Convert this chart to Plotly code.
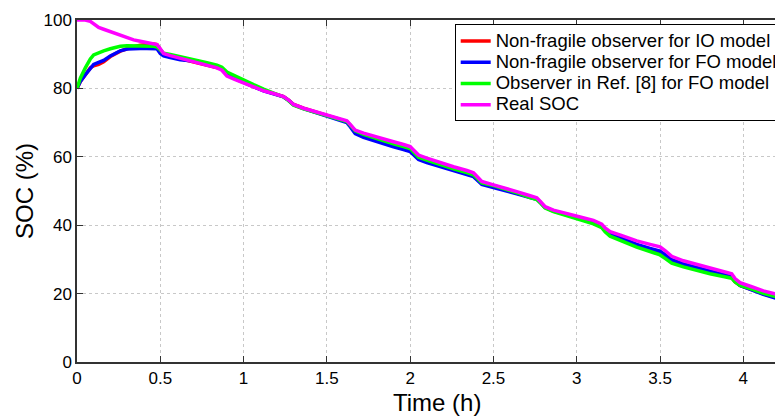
import plotly.graph_objects as go

# Time (h)
time_h = [0, 0.02, 0.05, 0.08, 0.1, 0.13, 0.16, 0.2, 0.26, 0.3, 0.34, 0.38, 0.42, 0.46, 0.48, 0.5, 0.52,
          0.56, 0.62, 0.7, 0.78, 0.84, 0.87, 0.9, 0.95, 1.0, 1.06, 1.12, 1.18, 1.24, 1.27, 1.3, 1.36, 1.42,
          1.5, 1.56, 1.62, 1.64, 1.67, 1.72, 1.78, 1.84, 1.9, 1.96, 2.0, 2.02, 2.05, 2.1, 2.18, 2.26, 2.34,
          2.38, 2.4, 2.43, 2.5, 2.56, 2.64, 2.72, 2.76, 2.78, 2.81, 2.86, 2.94, 3.02, 3.1, 3.15, 3.17, 3.2,
          3.28, 3.36, 3.44, 3.5, 3.53, 3.57, 3.64, 3.72, 3.8, 3.88, 3.93, 3.95, 3.98, 4.05, 4.12, 4.2, 4.3]

soc_real = [100, 100, 100, 99.6, 98.8, 97.8, 97.3, 96.6, 95.5, 94.8, 94.2, 93.8, 93.4, 93.1, 92.8, 91.6, 90.2,
            89.6, 88.8, 87.8, 86.8, 86.0, 85.3, 83.6, 82.6, 81.7, 80.4, 79.3, 78.5, 77.6, 76.6, 75.3, 74.2, 73.3,
            72.3, 71.4, 70.5, 69.5, 67.8, 66.9, 66.0, 65.2, 64.4, 63.6, 63.0, 62.0, 60.5, 59.6, 58.3, 57.1, 56.0,
            55.3, 54.3, 52.8, 51.8, 51.0, 49.8, 48.6, 48.0, 47.0, 45.4, 44.4, 43.5, 42.4, 41.4, 40.3, 39.2, 38.1,
            36.8, 35.4, 34.4, 33.7, 32.6, 30.9, 29.6, 28.5, 27.4, 26.4, 25.8, 24.4, 23.2, 22.0, 20.8, 19.8, 18.8]

soc_io = [80, 82, 84, 86, 86.6, 87, 87.8, 89.3, 90.9, 91.6, 92.2, 92.6, 92.9, 93.0, 92.8, 91.4, 90.0,
          89.4, 88.7, 87.9, 87.0, 86.3, 85.7, 84.1, 82.9, 81.9, 80.5, 79.4, 78.5, 77.6, 76.6, 75.3, 74.2, 73.2,
          72.1, 71.2, 70.2, 69.1, 67.2, 66.1, 65.1, 64.2, 63.3, 62.5, 61.9, 61.0, 59.6, 58.7, 57.5, 56.4, 55.3,
          54.6, 53.7, 52.3, 51.3, 50.5, 49.4, 48.3, 47.7, 46.8, 45.2, 44.1, 43.1, 41.9, 40.8, 39.6, 38.5, 37.2,
          35.6, 34.0, 32.8, 32.0, 31.0, 29.6, 28.4, 27.3, 26.3, 25.3, 24.7, 23.5, 22.4, 21.2, 19.9, 18.8, 17.6]

soc_fo = [80, 82, 84, 86, 87, 87.6, 88.2, 89.5, 91.0, 91.5, 91.7, 91.7, 91.7, 91.7, 91.6, 90.2, 89.5,
          89.0, 88.4, 88.0, 87.0, 86.2, 85.6, 84.0, 82.8, 81.8, 80.4, 79.3, 78.4, 77.5, 76.5, 75.2, 74.1, 73.1,
          72.0, 71.0, 70.0, 68.8, 66.8, 65.7, 64.7, 63.8, 62.9, 62.1, 61.5, 60.6, 59.2, 58.3, 57.1, 56.0, 54.9,
          54.2, 53.3, 51.9, 51.0, 50.3, 49.2, 48.1, 47.6, 46.7, 45.2, 44.2, 43.3, 42.2, 41.1, 40.0, 38.9, 37.6,
          36.0, 34.4, 33.2, 32.4, 31.4, 29.9, 28.7, 27.6, 26.5, 25.5, 24.9, 23.6, 22.4, 21.1, 19.8, 18.6, 17.4]

soc_ref8 = [80, 83, 86, 88.6, 89.8, 90.5, 91.0, 91.6, 92.3, 92.5, 92.5, 92.5, 92.4, 92.3, 92.1, 91.2, 90.3,
            89.9, 89.3, 88.5, 87.5, 86.8, 86.2, 84.8, 83.6, 82.5, 81.1, 79.8, 78.6, 77.5, 76.4, 75.1, 74.0, 73.1,
            72.1, 71.2, 70.3, 69.3, 67.6, 66.6, 65.6, 64.7, 63.8, 63.0, 62.4, 61.4, 59.9, 59.0, 57.7, 56.5, 55.4,
            54.7, 53.8, 52.4, 51.6, 50.8, 49.5, 48.1, 47.5, 46.6, 45.0, 44.0, 42.8, 41.6, 40.4, 39.3, 38.1, 36.8,
            35.2, 33.6, 32.3, 31.3, 30.3, 28.9, 27.8, 26.7, 25.8, 25.0, 24.5, 23.4, 22.4, 21.3, 20.1, 19.0, 18.0]

series_names = ["Non-fragile observer for IO model", "Non-fragile observer for FO model",
                "Observer in Ref. [8] for FO model", "Real SOC"]
series_values = [soc_io, soc_fo, soc_ref8, soc_real]
series_colors = ["#ff0000", "#0000ff", "#00ff00", "#ff00ff"]

x_ticks = [0, 0.5, 1, 1.5, 2, 2.5, 3, 3.5, 4]
x_tick_labels = ["0", "0.5", "1", "1.5", "2", "2.5", "3", "3.5", "4"]
y_ticks = [0, 20, 40, 60, 80, 100]
y_tick_labels = ["0", "20", "40", "60", "80", "100"]

FONT = "Liberation Sans, Arial, sans-serif"
LEGEND_TEXT_PX = 18.5

fig = go.Figure()
for name, vals, col in zip(series_names, series_values, series_colors):
    label = '<span style="font-size:%.1fpx">%s</span>' % (LEGEND_TEXT_PX, name)
    fig.add_trace(go.Scatter(x=time_h, y=vals, mode="lines", name=label,
                             line=dict(color=col, width=3.5)))

# invisible trace on a top axis to get mirrored ticks without a right border
fig.add_trace(go.Scatter(x=[0], y=[0], xaxis="x2", showlegend=False, hoverinfo="skip",
                         mode="markers", marker=dict(opacity=0)))

XMAX = 4.238
axis_col = "#333333"
fig.update_layout(
    width=775, height=408,
    margin=dict(l=69, r=0, t=11.5, b=53.5, autoexpand=False),
    plot_bgcolor="white", paper_bgcolor="white",
    font=dict(family=FONT, size=17, color="black"),
    xaxis=dict(range=[0, XMAX], tickvals=x_ticks, ticktext=x_tick_labels,
               showline=True, linecolor=axis_col, linewidth=1.5,
               ticks="inside", ticklen=6, tickcolor=axis_col,
               showgrid=True, gridcolor="#c8c8c8", griddash="dot", gridwidth=1,
               zeroline=False, tickfont=dict(size=17)),
    xaxis2=dict(range=[0, XMAX], overlaying="x", side="top", tickvals=x_ticks,
                showticklabels=False, showline=True, linecolor=axis_col, linewidth=1.5,
                ticks="inside", ticklen=6, tickcolor=axis_col, showgrid=False, zeroline=False),
    yaxis=dict(range=[0, 100], tickvals=y_ticks, ticktext=y_tick_labels,
               showline=True, linecolor=axis_col, linewidth=1.5,
               ticks="inside", ticklen=6, tickcolor=axis_col,
               showgrid=True, gridcolor="#c8c8c8", griddash="dot", gridwidth=1,
               zeroline=False, tickfont=dict(size=17)),
    legend=dict(x=0.535, y=0.987, xanchor="left", yanchor="top",
                bgcolor="white", bordercolor="black", borderwidth=1,
                font=dict(family=FONT, size=14), tracegroupgap=0),
    showlegend=True,
)

fig.add_annotation(text="Time (h)", xref="x", yref="paper", x=2.16, y=0, yshift=-40,
                   xanchor="center", yanchor="middle", showarrow=False,
                   font=dict(family=FONT, size=24))
fig.add_annotation(text="SOC (%)", xref="paper", yref="paper", x=0, y=0.5, xshift=-53,
                   xanchor="center", yanchor="middle", textangle=-90, showarrow=False,
                   font=dict(family=FONT, size=24))

fig.write_html("out.html")
